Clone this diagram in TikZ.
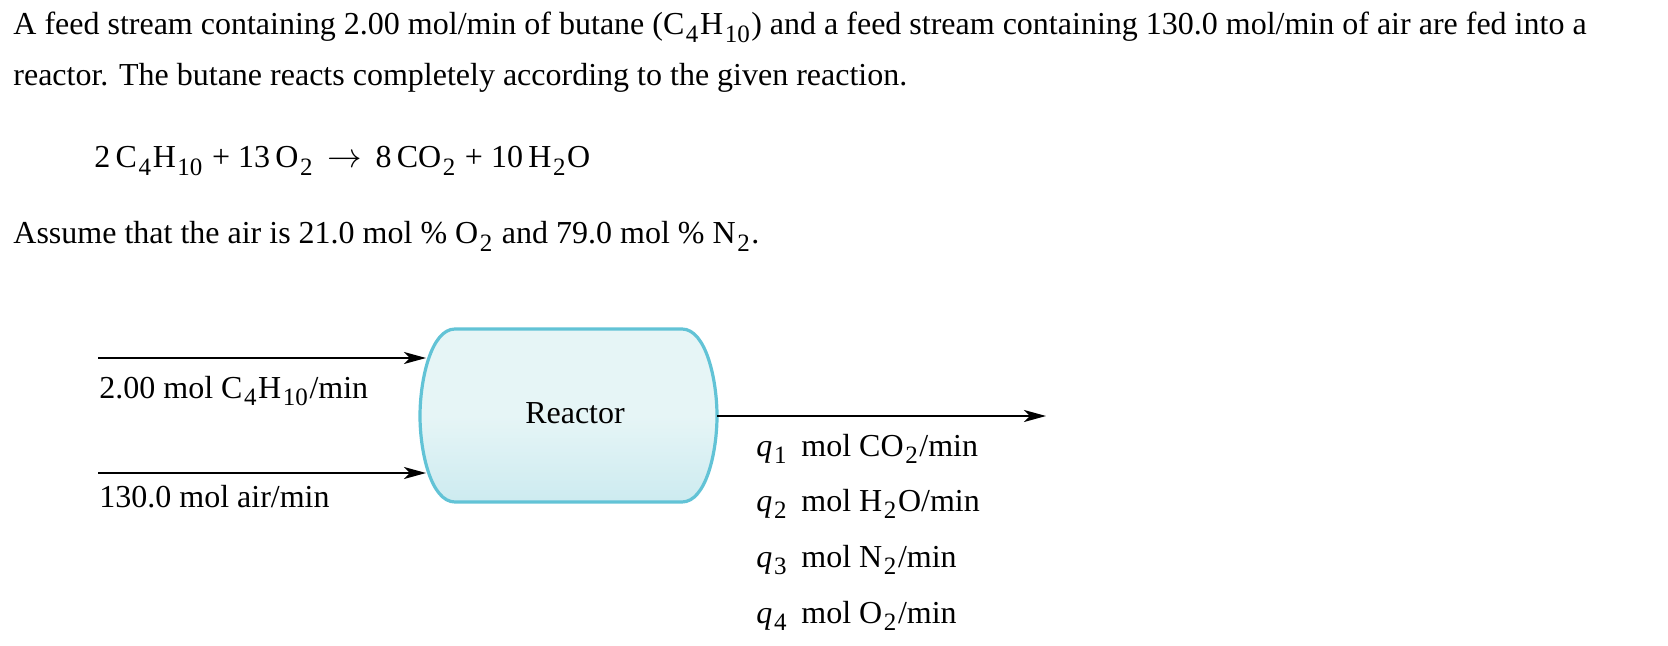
\documentclass[tikz,border=0pt]{standalone}
\usepackage{fontspec}
\setmainfont{Liberation Serif}
\usetikzlibrary{arrows.meta}
\definecolor{rline}{HTML}{62C3D6}
\definecolor{rfill}{HTML}{E6F5F6}
\definecolor{rfill2}{HTML}{CDEBF0}
\newcommand\lsub[1]{\kern0.05em\relax\raisebox{-0.5ex}{\fontsize{12.5}{14}\selectfont #1}\kern0.05em\relax}
\begin{document}
\begin{tikzpicture}[x=0.5pt,y=-0.5pt,
  txt/.style={anchor=base west,inner sep=0pt,font=\fontsize{16}{19}\selectfont},
  flow/.style={line width=0.9pt,-{Stealth[length=11pt,width=6pt,inset=3pt]}}]
\useasboundingbox (0,0) rectangle (1668,646);
\node[txt] (l1) at (13,35) {A feed stream containing 2.00 mol/min of butane (C\lsub{4}H\lsub{10}) and a feed stream containing 130.0 mol/min of air are fed into a};
\node[txt] (l2) at (13,86) {reactor. The butane reacts completely according to the given reaction.};
\node[txt] (eq) at (94,168) {2\,C\lsub{4}H\lsub{10} + 13\,O\lsub{2} \,$\rightarrow$\, 8\,CO\lsub{2} + 10\,H\lsub{2}O};
\node[txt] (l3) at (13,244) {Assume that the air is 21.0 mol \% O\lsub{2} and 79.0 mol \% N\lsub{2}.};
% reactor
\shade[top color=rfill,bottom color=rfill2,middle color=rfill,shading angle=0,draw=rline,line width=1.6pt]
 (455,329) -- (682,329) .. controls (706,329) and (717,380) .. (717,416)
 .. controls (717,452) and (706,502) .. (682,502) -- (455,502)
 .. controls (431,502) and (420,452) .. (420,416)
 .. controls (420,380) and (431,329) .. (455,329) -- cycle;
\node[txt,anchor=base] (rx) at (575,423) {Reactor};
\coordinate (in1) at (98,358); \coordinate (r1) at (426,358);
\coordinate (in2) at (98,473); \coordinate (r2) at (426,473);
\coordinate (o1) at (717,416); \coordinate (o2) at (1046,416);
\draw[flow] (in1) -- (r1);
\draw[flow] (in2) -- (r2);
\draw[flow] (o1) -- (o2);
\node[txt] (a1) at (99,398) {2.00 mol C\lsub{4}H\lsub{10}/min};
\node[txt] (a2) at (99,507) {130.0 mol air/min};
\node[txt] (q1) at (756,456) {\textit{q}\lsub{1}\, mol CO\lsub{2}/min};
\node[txt] (q2) at (756,511) {\textit{q}\lsub{2}\, mol H\lsub{2}O/min};
\node[txt] (q3) at (756,567) {\textit{q}\lsub{3}\, mol N\lsub{2}/min};
\node[txt] (q4) at (756,623) {\textit{q}\lsub{4}\, mol O\lsub{2}/min};
\end{tikzpicture}
\end{document}
